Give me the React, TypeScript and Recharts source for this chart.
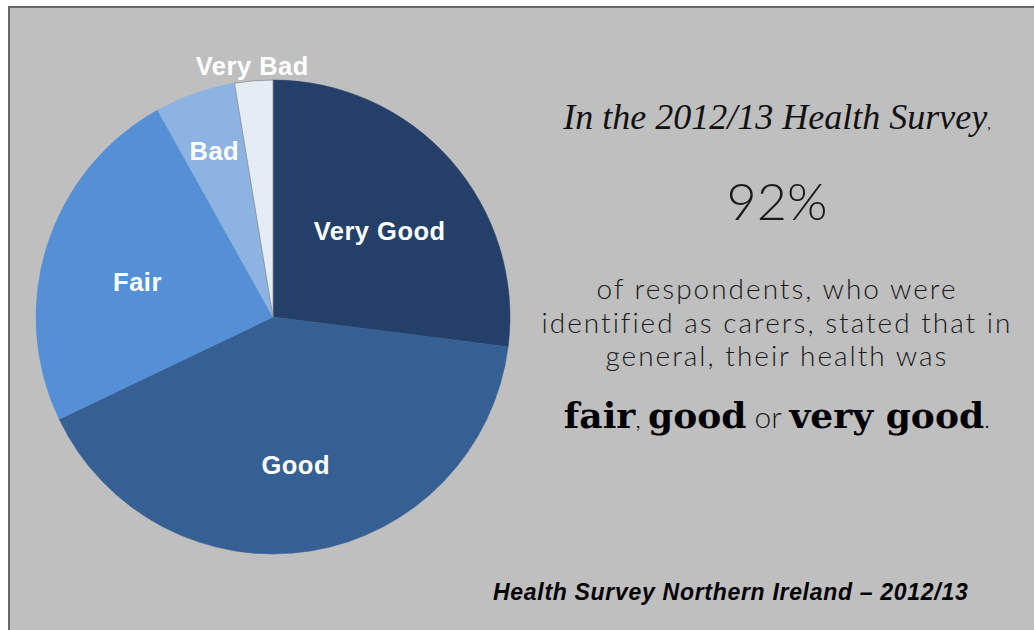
import React from "react";
import { PieChart, Pie, Cell } from "recharts";

const categories = ["Very Good", "Good", "Fair", "Bad", "Very Bad"];
const shares = [27.0, 40.9, 24.0, 5.5, 2.6];
const colors = ["#243f68", "#366093", "#5590d6", "#8db3e2", "#e4ecf6"];

const data = categories.map((name, i) => ({ name, value: shares[i] }));

const RAD = Math.PI / 180;

const renderLabel = (props: any) => {
  const { cx, cy, midAngle, outerRadius, percent, name } = props;
  const ratio = percent >= 0.2 ? 0.6 : percent >= 0.04 ? 0.75 : 1.07;
  const r = outerRadius * ratio;
  const x = cx + r * Math.cos(-midAngle * RAD);
  const y = cy + r * Math.sin(-midAngle * RAD) + (percent >= 0.2 ? 8 : 2);
  return (
    <text
      x={x}
      y={y}
      fill="#ffffff"
      textAnchor="middle"
      dominantBaseline="central"
      style={{ fontFamily: "'Liberation Sans', Arial, sans-serif", fontWeight: 700, fontSize: 25.5, letterSpacing: 0.5 }}
    >
      {name}
    </text>
  );
};

const light: React.CSSProperties = { fontFamily: "Lato, 'Open Sans', sans-serif", fontWeight: 300, color: "#1a1a1a" };
const boldSerif: React.CSSProperties = { fontFamily: "'DejaVu Serif', serif", fontWeight: 700, color: "#000" };

export default function App() {
  return (
    <div style={{ position: "absolute", left: 0, top: 0, width: 1034, height: 630, background: "#ffffff", overflow: "hidden" }}>
      <div
        style={{
          position: "absolute",
          left: 8,
          top: 6,
          width: 1040,
          height: 640,
          background: "#bfbfbf",
          border: "2px solid #676767",
          boxSizing: "border-box",
        }}
      />
      <div style={{ position: "absolute", left: 0, top: 0 }}>
        <PieChart width={1034} height={630} margin={{ top: 0, right: 0, bottom: 0, left: 0 }}>
          <Pie
            data={data}
            dataKey="value"
            nameKey="name"
            cx={273}
            cy={317}
            outerRadius={237}
            startAngle={90}
            endAngle={-270}
            label={renderLabel}
            labelLine={false}
            isAnimationActive={false}
          >
            {data.map((d, i) => (
              <Cell
                key={d.name}
                fill={colors[i]}
                stroke={i === 4 ? "#8a8a8a" : colors[i]}
                strokeWidth={i === 4 ? 0.8 : 0.5}
              />
            ))}
          </Pie>
        </PieChart>
      </div>
      <div
        style={{
          position: "absolute",
          left: 520,
          width: 514,
          top: 96,
          textAlign: "center",
          fontFamily: "'Liberation Serif', 'Times New Roman', serif",
          fontStyle: "italic",
          fontSize: 36,
          color: "#111",
          whiteSpace: "nowrap",
        }}
      >
        In the 2012/13 Health Survey<span style={{ fontSize: 14 }}>,</span>
      </div>
      <div
        style={{
          position: "absolute",
          left: 520,
          width: 514,
          top: 168,
          textAlign: "center",
          fontSize: 52,
          lineHeight: "64px",
          whiteSpace: "nowrap",
          ...light,
        }}
      >
        92%
      </div>
      <div
        style={{
          position: "absolute",
          left: 520,
          width: 514,
          top: 272,
          textAlign: "center",
          fontSize: 28,
          letterSpacing: 2,
          lineHeight: "33.5px",
          whiteSpace: "nowrap",
          ...light,
        }}
      >
        <div>of respondents, who were</div>
        <div>identified as carers, stated that in</div>
        <div>general, their health was</div>
      </div>
      <div
        style={{
          position: "absolute",
          left: 520,
          width: 514,
          top: 390,
          textAlign: "center",
          fontSize: 36,
          lineHeight: "50px",
          whiteSpace: "nowrap",
        }}
      >
        <span style={boldSerif}>fair</span>
        <span style={{ ...light, fontSize: 26 }}>, </span>
        <span style={boldSerif}>good</span>
        <span style={{ ...light, fontSize: 30 }}> or </span>
        <span style={boldSerif}>very good</span>
        <span style={{ ...light, fontSize: 26 }}>.</span>
      </div>
      <div
        style={{
          position: "absolute",
          left: 493,
          top: 579,
          fontFamily: "'Liberation Sans', Arial, sans-serif",
          fontWeight: 700,
          fontStyle: "italic",
          fontSize: 23,
          letterSpacing: 0.7,
          color: "#000",
          whiteSpace: "nowrap",
        }}
      >
        Health Survey Northern Ireland – 2012/13
      </div>
    </div>
  );
}
